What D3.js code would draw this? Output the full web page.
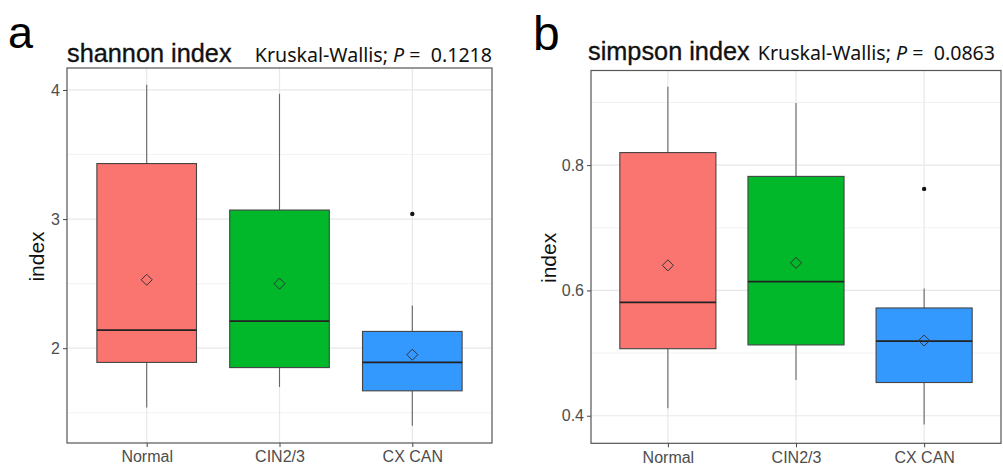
<!DOCTYPE html>
<html>
<head>
<meta charset="utf-8">
<script src="https://cdn.jsdelivr.net/npm/d3@7/dist/d3.min.js"></script>
<style>
  html, body { margin: 0; padding: 0; background: #fff; }
  svg { display: block; }
</style>
</head>
<body>
<svg id="chart" width="1003" height="466"></svg>
<script>
// ---------------- data ----------------
const categories = ["Normal", "CIN2/3", "CX CAN"];
const groupColors = ["#FA7570", "#00B82A", "#3399FF"];

// shannon index (panel a)
const shannonLowerWhisker = [1.54, 1.70, 1.40];
const shannonQ1 = [1.89, 1.85, 1.67];
const shannonMedian = [2.14, 2.21, 1.89];
const shannonQ3 = [3.43, 3.07, 2.13];
const shannonUpperWhisker = [4.04, 3.97, 2.33];
const shannonMean = [2.53, 2.50, 1.95];
const shannonOutliers = [[], [], [3.04]];
const shannonTicks = [2, 3, 4];
const shannonMinorTicks = [1.5, 2.5, 3.5];
const shannonDomain = [1.266, 4.17];
const shannonPValue = "0.1218";

// simpson index (panel b)
const simpsonLowerWhisker = [0.412, 0.457, 0.386];
const simpsonQ1 = [0.507, 0.513, 0.453];
const simpsonMedian = [0.581, 0.614, 0.519];
const simpsonQ3 = [0.820, 0.782, 0.572];
const simpsonUpperWhisker = [0.925, 0.899, 0.603];
const simpsonMean = [0.640, 0.644, 0.520];
const simpsonOutliers = [[], [], [0.762]];
const simpsonTicks = [0.4, 0.6, 0.8];
const simpsonMinorTicks = [0.5, 0.7, 0.9];
const simpsonDomain = [0.356, 0.951];
const simpsonPValue = "0.0863";

// ---------------- drawing ----------------
const svg = d3.select("#chart");

function drawPanel(p) {
  const g = svg.append("g");
  const x = d3.scalePoint().domain(categories).range([p.left, p.right]).padding(0.6);
  const y = d3.scaleLinear().domain(p.domain).range([p.bottom, p.top]);
  const step = x.step();
  const bw = step * 0.75;

  // background grid
  g.selectAll(".minor").data(p.minor).join("line")
    .attr("x1", p.left).attr("x2", p.right)
    .attr("y1", d => y(d)).attr("y2", d => y(d))
    .attr("stroke", "#EFEFEF").attr("stroke-width", 0.8);
  g.selectAll(".major").data(p.ticks).join("line")
    .attr("x1", p.left).attr("x2", p.right)
    .attr("y1", d => y(d)).attr("y2", d => y(d))
    .attr("stroke", "#E8E8E8").attr("stroke-width", 1.2);
  g.selectAll(".vgrid").data(categories).join("line")
    .attr("x1", d => x(d)).attr("x2", d => x(d))
    .attr("y1", p.top).attr("y2", p.bottom)
    .attr("stroke", "#E8E8E8").attr("stroke-width", 1.2);

  // boxes
  const rows = categories.map((c, i) => ({
    c, i, lw: p.lw[i], q1: p.q1[i], med: p.med[i], q3: p.q3[i], uw: p.uw[i],
    mean: p.mean[i], out: p.out[i], color: groupColors[i]
  }));

  const bg = g.selectAll(".box").data(rows).join("g");
  bg.append("line")
    .attr("x1", d => x(d.c)).attr("x2", d => x(d.c))
    .attr("y1", d => y(d.uw)).attr("y2", d => y(d.q3))
    .attr("stroke", "#666").attr("stroke-width", 1.1);
  bg.append("line")
    .attr("x1", d => x(d.c)).attr("x2", d => x(d.c))
    .attr("y1", d => y(d.q1)).attr("y2", d => y(d.lw))
    .attr("stroke", "#666").attr("stroke-width", 1.1);
  bg.append("rect")
    .attr("x", d => x(d.c) - bw / 2).attr("width", bw)
    .attr("y", d => y(d.q3)).attr("height", d => y(d.q1) - y(d.q3))
    .attr("fill", d => d.color).attr("stroke", "#444").attr("stroke-width", 1.1);
  bg.append("line")
    .attr("x1", d => x(d.c) - bw / 2).attr("x2", d => x(d.c) + bw / 2)
    .attr("y1", d => y(d.med)).attr("y2", d => y(d.med))
    .attr("stroke", "#222").attr("stroke-width", 1.8);
  // mean diamond
  bg.append("path")
    .attr("transform", d => `translate(${x(d.c)},${y(d.mean)})`)
    .attr("d", "M0,-5.5L5.5,0L0,5.5L-5.5,0Z")
    .attr("fill", "none").attr("stroke", "#333").attr("stroke-width", 1);
  // outliers
  bg.selectAll("circle").data(d => d.out.map(v => ({ c: d.c, v }))).join("circle")
    .attr("cx", d => x(d.c)).attr("cy", d => y(d.v)).attr("r", 2.2)
    .attr("fill", "#111");

  // panel border
  g.append("rect")
    .attr("x", p.left).attr("y", p.top)
    .attr("width", p.right - p.left).attr("height", p.bottom - p.top)
    .attr("fill", "none").attr("stroke", "#555").attr("stroke-width", 1.2);

  // axes
  const yAxis = d3.axisLeft(y).tickValues(p.ticks).tickSize(4).tickPadding(3)
    .tickFormat(p.fmt);
  const ya = g.append("g").attr("transform", `translate(${p.left},0)`).call(yAxis);
  ya.select(".domain").remove();
  ya.selectAll(".tick line").attr("stroke", "#444");
  ya.selectAll(".tick text").attr("fill", "#4D4D4D")
    .style("font-family", "'Liberation Sans', Arial, sans-serif").style("font-size", "16px");

  const xAxis = d3.axisBottom(x).tickSize(4).tickPadding(4);
  const xa = g.append("g").attr("transform", `translate(0,${p.bottom})`).call(xAxis);
  xa.select(".domain").remove();
  xa.selectAll(".tick line").attr("stroke", "#444");
  xa.selectAll(".tick text").attr("fill", "#4D4D4D")
    .style("font-family", "'Liberation Sans', Arial, sans-serif").style("font-size", "16px");

  // y label
  g.append("text")
    .attr("transform", `translate(${p.ylabX},${(p.top + p.bottom) / 2 + 1}) rotate(-90)`)
    .attr("text-anchor", "middle")
    .style("font-family", "'Liberation Sans', Arial, sans-serif").style("font-size", "21px")
    .attr("fill", "#111").text("index");

  // title
  g.append("text").attr("x", p.titleX).attr("y", p.titleY)
    .style("font-family", "'Liberation Sans', Arial, sans-serif").style("font-size", "25.3px")
    .attr("fill", "#111").attr("stroke", "#111").attr("stroke-width", 0.35)
    .text(p.title);

  // Kruskal-Wallis annotation
  const kt = g.append("text").attr("x", p.kwRight).attr("y", p.titleY)
    .attr("text-anchor", "end")
    .style("font-family", "'Noto Sans', 'Open Sans', sans-serif").style("font-size", "19.6px")
    .attr("fill", "#111");
  kt.append("tspan").text("Kruskal-Wallis;\u00A0");
  kt.append("tspan").style("font-style", "italic").text("P");
  kt.append("tspan").text(" =\u00A0 " + p.pval);

  // panel letter
  g.append("text").attr("x", p.letterX).attr("y", p.letterY)
    .style("font-family", "'Liberation Sans', Arial, sans-serif").style("font-size", p.letterSize)
    .attr("fill", "#000").text(p.letter);
}

drawPanel({
  left: 67, right: 492, top: 68, bottom: 443,
  domain: shannonDomain, ticks: shannonTicks, minor: shannonMinorTicks, fmt: d3.format("d"),
  lw: shannonLowerWhisker, q1: shannonQ1, med: shannonMedian, q3: shannonQ3,
  uw: shannonUpperWhisker, mean: shannonMean, out: shannonOutliers,
  title: "shannon index", titleX: 67, titleY: 62, pval: shannonPValue, kwRight: 492,
  ylabX: 44, letter: "a", letterX: 8, letterY: 48, letterSize: "45px"
});

drawPanel({
  left: 591, right: 1001, top: 70.5, bottom: 443.3,
  domain: simpsonDomain, ticks: simpsonTicks, minor: simpsonMinorTicks, fmt: d3.format(".1f"),
  lw: simpsonLowerWhisker, q1: simpsonQ1, med: simpsonMedian, q3: simpsonQ3,
  uw: simpsonUpperWhisker, mean: simpsonMean, out: simpsonOutliers,
  title: "simpson index", titleX: 588, titleY: 60, pval: simpsonPValue, kwRight: 995,
  ylabX: 556, letter: "b", letterX: 533, letterY: 50, letterSize: "48px"
});
</script>
</body>
</html>
